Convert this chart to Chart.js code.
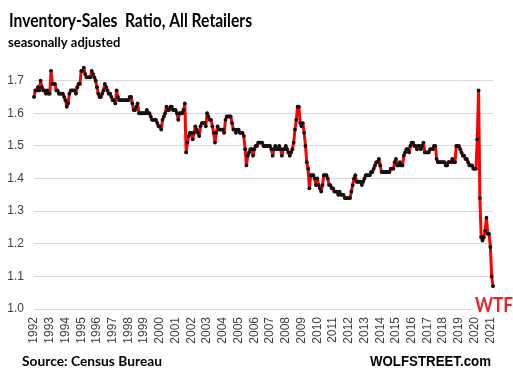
<!DOCTYPE html>
<html>
<head>
<meta charset="utf-8">
<script src="https://cdn.jsdelivr.net/npm/chart.js@4.4.1/dist/chart.umd.min.js"></script>
<style>
  html, body { margin: 0; padding: 0; background: #fff; }
  #wrap { width: 513px; height: 375px; position: relative; }
</style>
</head>
<body>
<div id="wrap"><canvas id="myChart"></canvas></div>
<script>
function $(id) {
  return document.getElementById(id);
}

// tick labels (one per January)
const years = [
  "1992", "1993", "1994", "1995", "1996", "1997", "1998", "1999", "2000", "2001",
  "2002", "2003", "2004", "2005", "2006", "2007", "2008", "2009", "2010", "2011",
  "2012", "2013", "2014", "2015", "2016", "2017", "2018", "2019", "2020", "2021"
];
const monthNames = ["Jan", "Feb", "Mar", "Apr", "May", "Jun", "Jul", "Aug", "Sep", "Oct", "Nov", "Dec"];

// inventory-sales ratio, monthly, Jan 1992 - Mar 2021
const ratio = [
  1.65, 1.67, 1.67, 1.68, 1.67, 1.70, 1.68, 1.67, 1.67, 1.66, 1.67, 1.66, // 1992
  1.66, 1.73, 1.69, 1.69, 1.69, 1.67, 1.67, 1.66, 1.66, 1.66, 1.66, 1.65, // 1993
  1.64, 1.62, 1.63, 1.66, 1.67, 1.67, 1.67, 1.67, 1.66, 1.68, 1.69, 1.69, // 1994
  1.73, 1.73, 1.74, 1.72, 1.71, 1.71, 1.71, 1.71, 1.73, 1.72, 1.71, 1.70, // 1995
  1.68, 1.66, 1.65, 1.65, 1.66, 1.67, 1.69, 1.68, 1.67, 1.66, 1.66, 1.65, // 1996
  1.64, 1.64, 1.63, 1.67, 1.65, 1.64, 1.64, 1.64, 1.64, 1.64, 1.64, 1.64, // 1997
  1.64, 1.65, 1.65, 1.63, 1.61, 1.61, 1.62, 1.63, 1.60, 1.60, 1.60, 1.60, // 1998
  1.60, 1.60, 1.61, 1.60, 1.60, 1.59, 1.58, 1.58, 1.58, 1.58, 1.57, 1.56, // 1999
  1.56, 1.55, 1.58, 1.59, 1.60, 1.62, 1.61, 1.61, 1.62, 1.62, 1.61, 1.61, // 2000
  1.61, 1.60, 1.58, 1.60, 1.60, 1.60, 1.61, 1.63, 1.48, 1.51, 1.53, 1.54, // 2001
  1.54, 1.52, 1.54, 1.56, 1.55, 1.54, 1.53, 1.56, 1.57, 1.57, 1.57, 1.56, // 2002
  1.60, 1.59, 1.58, 1.58, 1.56, 1.54, 1.51, 1.54, 1.56, 1.55, 1.55, 1.55, // 2003
  1.55, 1.54, 1.58, 1.59, 1.59, 1.59, 1.59, 1.57, 1.55, 1.55, 1.54, 1.55, // 2004
  1.55, 1.54, 1.54, 1.54, 1.53, 1.49, 1.44, 1.47, 1.48, 1.49, 1.49, 1.47, // 2005
  1.49, 1.50, 1.50, 1.51, 1.51, 1.51, 1.51, 1.50, 1.50, 1.50, 1.50, 1.50, // 2006
  1.50, 1.49, 1.47, 1.49, 1.50, 1.49, 1.49, 1.50, 1.49, 1.47, 1.49, 1.49, // 2007
  1.50, 1.49, 1.48, 1.47, 1.48, 1.49, 1.51, 1.55, 1.58, 1.62, 1.62, 1.57, // 2008
  1.56, 1.57, 1.54, 1.50, 1.45, 1.43, 1.37, 1.41, 1.41, 1.41, 1.40, 1.38, // 2009
  1.40, 1.38, 1.37, 1.36, 1.38, 1.41, 1.41, 1.41, 1.40, 1.38, 1.38, 1.37, // 2010
  1.37, 1.36, 1.36, 1.36, 1.35, 1.36, 1.35, 1.35, 1.35, 1.34, 1.34, 1.34, // 2011
  1.34, 1.34, 1.36, 1.38, 1.40, 1.41, 1.39, 1.39, 1.39, 1.39, 1.38, 1.39, // 2012
  1.40, 1.41, 1.41, 1.41, 1.41, 1.42, 1.42, 1.43, 1.44, 1.45, 1.45, 1.46, // 2013
  1.44, 1.42, 1.42, 1.42, 1.42, 1.42, 1.42, 1.42, 1.43, 1.43, 1.43, 1.45, // 2014
  1.46, 1.44, 1.44, 1.45, 1.44, 1.44, 1.47, 1.48, 1.49, 1.49, 1.48, 1.50, // 2015
  1.51, 1.51, 1.50, 1.50, 1.49, 1.50, 1.50, 1.49, 1.50, 1.51, 1.48, 1.48, // 2016
  1.48, 1.48, 1.49, 1.49, 1.49, 1.50, 1.50, 1.46, 1.45, 1.45, 1.45, 1.45, // 2017
  1.45, 1.45, 1.44, 1.44, 1.45, 1.45, 1.45, 1.46, 1.45, 1.45, 1.50, 1.50, // 2018
  1.50, 1.49, 1.48, 1.47, 1.47, 1.46, 1.46, 1.45, 1.44, 1.44, 1.44, 1.43, // 2019
  1.43, 1.43, 1.52, 1.67, 1.34, 1.22, 1.21, 1.22, 1.24, 1.28, 1.23, 1.23, // 2020
  1.19, 1.10, 1.07                                                        // 2021
];

// one category per month
let labels = [];
years.forEach(y => {
  monthNames.forEach(m => {
    if (labels.length < ratio.length)
      labels.push(m + " " + y);
  });
});

const textColor = "#404040";
const axisFont = { family: "Liberation Sans", size: 12 };

// titles, source line and the WTF note
const notes = {
  id: "notes",
  afterDraw(chart) {
    const c = chart.ctx;
    c.save();
    c.textBaseline = "alphabetic";
    c.textAlign = "left";
    c.fillStyle = "#000";
    c.font = "bold 19px Lato";
    c.fillText("Inventory-Sales  Ratio, All Retailers", 9, 27, 243);
    c.font = "bold 13px Lato";
    c.fillText("seasonally adjusted", 8, 47, 130);
    c.font = "bold 14px Lato";
    c.fillText("Source: Census Bureau", 22, 366, 140);
    c.font = "bold 14px 'Liberation Sans'";
    c.fillText("WOLFSTREET.com", 370, 366, 121);
    // WTF sits on the 1.0 line
    c.fillStyle = "#fff";
    c.fillRect(473, 294, 40, 22);
    c.fillStyle = "#f0202a";
    c.font = "bold 21px Lato";
    c.fillText("WTF", 475, 312, 38);
    c.restore();
  }
};

let ctx = $("myChart").getContext("2d");
let myChart = new Chart(ctx, {
  type: "line",
  data: {
    labels: labels,
    datasets: [{
      data: ratio,
      borderColor: "#ff0000",
      borderWidth: 3,
      borderJoinStyle: "round",
      borderCapStyle: "round",
      tension: 0,
      pointRadius: 1.9,
      pointBorderWidth: 0,
      pointBackgroundColor: "#111",
      pointHoverRadius: 2
    }]
  },
  options: {
    responsive: true,
    maintainAspectRatio: false,
    animation: false,
    devicePixelRatio: 1,
    layout: {
      padding: { top: 48, right: 20, bottom: 0, left: 0 }
    },
    plugins: {
      legend: { display: false },
      title: { display: false },
      tooltip: { enabled: false }
    },
    scales: {
      x: {
        type: "category",
        grid: { display: false, drawTicks: false },
        border: { display: false },
        ticks: {
          autoSkip: false,
          minRotation: 90,
          maxRotation: 90,
          padding: 8,
          color: textColor,
          font: axisFont,
          callback: function(value, index) {
            return index % 12 === 0 ? years[index / 12] : null;
          }
        },
        afterFit: function(scale) {
          scale.height = 66;
        }
      },
      y: {
        min: 1.0,
        max: 1.8,
        grid: {
          drawTicks: false,
          lineWidth: 1,
          color: c => c.tick && c.tick.value > 1.75 ? "rgba(0,0,0,0)" : "#d9d9d9"
        },
        border: { display: false },
        ticks: {
          stepSize: 0.1,
          padding: 10,
          color: textColor,
          font: axisFont,
          callback: v => v > 1.75 ? "" : v.toFixed(1)
        },
        afterFit: function(scale) {
          scale.width = 34;
        }
      }
    }
  },
  plugins: [notes]
});
</script>
</body>
</html>
